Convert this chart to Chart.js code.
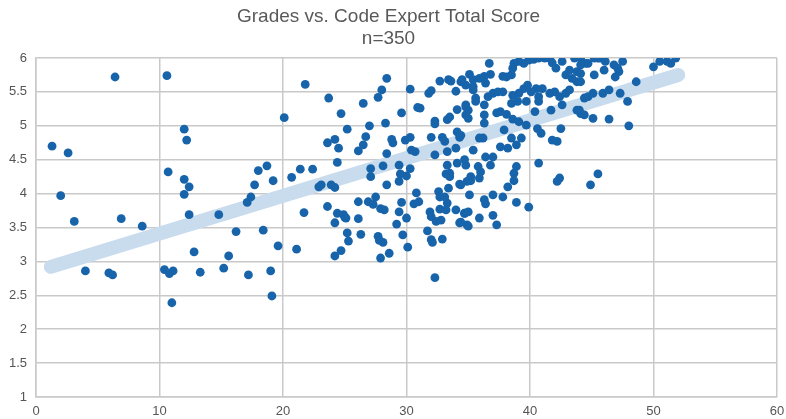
<!DOCTYPE html>
<html lang="en">
<head>
  <meta charset="UTF-8" />
  <title>Grades vs. Code Expert Total Score</title>
  <script src="https://cdn.jsdelivr.net/npm/chart.js"></script>
  <style>
    html, body { margin: 0; padding: 0; background: #fff; }
    #wrap { width: 786px; height: 419px; }
  </style>
</head>
<body>
<div id="wrap"><canvas id="scoreChart" width="786" height="419"></canvas></div>
<script>
  // code expert total score (x) and grade (y)
  const scoreX = [
    1.3, 2.0, 2.6, 3.1, 4.0, 5.9, 6.2, 6.4, 6.9, 8.6, 10.6, 12.0, 12.2, 10.7, 12.0, 12.4, 12.0, 12.4, 10.4, 10.8, 11.1, 11.0, 12.8, 13.3,
    21.8, 23.7, 24.7, 25.2, 20.1, 23.6, 24.2, 24.5, 24.4, 18.0, 18.7, 19.2, 17.7, 17.4, 17.1, 14.8, 20.7, 21.4, 22.4, 22.9, 23.1, 23.9, 24.2, 21.7, 23.6, 24.4, 25.0, 24.2, 16.2, 18.4,
    15.2, 15.6, 17.2, 19.0, 19.1, 19.6, 21.1, 25.2, 25.3, 24.7, 24.2,
    28.4, 28.0, 27.7, 26.5, 30.3, 32.7, 33.4, 33.6, 31.8, 32.0, 34.5, 34.8, 34.0, 29.6, 30.9, 31.1, 27.0, 28.3, 32.3, 32.3, 33.3, 33.5, 34.1, 34.8, 34.8,
    26.7, 26.5, 26.1, 28.8, 28.9, 29.9, 30.3, 32.0, 32.9, 33.1, 34.1, 34.3, 34.0, 33.3, 28.4, 30.4, 30.7, 32.3, 30.3, 29.4, 28.1, 27.1, 33.3, 33.5, 34.1, 34.8, 27.1, 29.5,
    29.4, 30.0, 28.4, 33.2, 33.5, 33.4, 34.3, 34.9, 27.5, 26.1, 26.9, 27.3, 27.9, 28.2, 29.6, 29.4, 30.8, 31.0, 30.6, 32.6, 32.7, 33.1, 33.3, 33.2, 32.7, 31.9, 32.0, 32.4, 32.8, 34.0, 34.7, 34.3, 34.9,
    24.9, 25.1, 26.1, 30.0, 29.2, 26.3, 27.7, 27.8, 28.1, 29.7, 30.1, 28.6, 27.9, 31.7, 32.0, 32.1, 32.9, 32.3,
    36.7, 38.7, 39.1, 39.5, 39.9, 40.3, 40.7, 41.2, 41.6, 41.8, 42.1, 38.6, 38.5, 38.1, 37.8, 36.8, 36.3, 35.9, 36.4, 35.1, 35.4, 34.4, 35.4, 35.4,
    42.6, 43.6, 44.1, 44.5, 43.2, 42.9, 43.8, 43.4, 43.8, 41.0, 40.5, 39.8, 39.5, 40.1, 37.0, 37.4, 37.8, 38.6, 39.1, 36.6, 35.6, 41.6, 42.0, 42.4, 42.9, 43.2,
    40.7, 40.7, 39.7, 39.0, 38.5, 35.6, 34.8, 35.0, 36.3, 42.6, 43.8, 44.1, 44.4, 41.7, 40.4, 37.3, 37.6, 38.1, 36.3, 35.0, 36.3, 38.6, 39.1, 39.7, 42.5, 40.6, 40.9, 37.9,
    36.2, 35.9, 38.5, 39.3, 38.9, 38.2, 37.6, 35.4, 34.4, 41.8, 42.2, 40.7, 37.0, 36.4, 36.8, 38.9, 38.7, 34.7, 35.8, 36.0, 42.4, 35.2,
    35.2, 35.9, 34.4, 38.7, 38.2, 42.2, 44.9, 35.1, 36.3, 36.4, 37.0, 37.8, 38.9, 39.9, 34.7, 35.0, 34.4, 35.0, 35.9, 37.0, 37.3,
    44.7, 45.2, 45.5, 45.7, 46.1, 46.8, 47.5, 44.1, 44.1, 45.2, 46.0, 47.1, 47.2, 46.9, 44.1, 48.6, 50.0, 50.5, 51.1, 51.4, 51.8,
    45.1, 44.7, 44.4, 45.9, 46.4, 47.3, 47.9, 44.0, 45.1, 46.4, 48.0, 45.5
  ];
  const gradeY = [
    4.70, 3.97, 4.60, 3.59, 2.86, 2.83, 2.80, 5.72, 3.63, 3.52, 5.74, 4.95, 4.79, 4.32, 4.21, 4.10, 3.99, 3.69, 2.88, 2.82, 2.86, 2.39, 3.14, 2.84,
    5.61, 5.41, 5.18, 4.95, 5.12, 4.75, 4.80, 4.67, 4.46, 4.34, 4.41, 4.19, 4.13, 3.95, 3.87, 3.69, 4.24, 4.36, 4.36, 4.10, 4.13, 4.13, 4.09, 3.72, 3.81, 3.71, 3.65, 3.57, 3.44, 3.46,
    2.90, 3.08, 2.80, 2.86, 2.49, 3.23, 3.18, 3.42, 3.30, 3.16, 3.08,
    5.70, 5.53, 5.42, 5.33, 5.54, 5.66, 5.68, 5.66, 5.48, 5.52, 5.68, 5.60, 5.51, 5.19, 5.27, 5.26, 5.00, 5.04, 5.07, 5.03, 5.09, 5.13, 5.24, 5.28, 5.16,
    4.84, 4.72, 4.63, 4.80, 4.75, 4.79, 4.83, 4.83, 4.83, 4.77, 4.91, 4.83, 4.67, 4.62, 4.59, 4.64, 4.62, 4.57, 4.37, 4.42, 4.41, 4.37, 4.42, 4.30, 4.45, 4.42, 4.25, 4.29,
    4.18, 4.26, 4.13, 4.29, 4.25, 4.08, 4.14, 4.18, 3.95, 3.88, 3.88, 3.84, 3.78, 3.76, 3.87, 3.73, 4.01, 3.88, 3.85, 4.03, 3.95, 3.95, 3.86, 3.76, 3.77, 3.73, 3.66, 3.59, 3.61, 3.76, 3.71, 3.57, 3.54,
    3.69, 3.64, 3.63, 3.64, 3.55, 3.40, 3.37, 3.31, 3.28, 3.39, 3.21, 3.12, 3.05, 3.45, 3.32, 3.28, 3.33, 2.76,
    5.92, 5.92, 5.95, 5.92, 5.97, 5.98, 6.00, 6.00, 6.00, 5.93, 5.85, 5.85, 5.75, 5.72, 5.73, 5.76, 5.73, 5.70, 5.63, 5.76, 5.68, 5.65, 5.58, 5.53,
    5.95, 6.00, 6.00, 5.92, 5.82, 5.75, 5.80, 5.70, 5.65, 5.55, 5.55, 5.60, 5.55, 5.50, 5.48, 5.50, 5.50, 5.45, 5.48, 5.43, 5.41, 5.48, 5.50, 5.43, 5.48, 5.53,
    5.43, 5.36, 5.36, 5.36, 5.33, 5.36, 5.31, 5.23, 5.31, 5.31, 5.23, 5.18, 5.16, 5.23, 5.21, 5.19, 5.21, 5.17, 5.16, 5.11, 5.04, 5.10, 5.06, 5.01, 4.96, 4.96, 4.89, 4.94,
    4.82, 4.82, 4.82, 4.82, 4.72, 4.67, 4.69, 4.64, 4.86, 4.79, 4.77, 4.45, 4.54, 4.54, 4.42, 4.40, 4.30, 4.50, 4.40, 4.32, 4.23, 4.25,
    4.19, 4.23, 4.13, 4.19, 4.10, 4.18, 4.13, 3.98, 3.91, 3.85, 3.98, 3.95, 3.87, 3.80, 3.71, 3.73, 3.58, 3.52, 3.64, 3.68, 3.54,
    5.92, 6.00, 6.00, 6.00, 5.95, 5.90, 5.95, 5.90, 5.77, 5.75, 5.82, 5.85, 5.80, 5.72, 5.65, 5.65, 5.87, 5.95, 5.95, 5.92, 6.00,
    5.48, 5.43, 5.41, 5.48, 5.53, 5.48, 5.36, 5.23, 5.11, 5.10, 5.00, 4.29
  ];

  // fitted regression line end points
  const fitX = [1.2, 52.0];
  const fitY = [2.92, 5.75];

  const titleLines = ['Grades vs. Code Expert Total Score', 'n=350'];

  const points = scoreX.map((x, i) => ({ x: x, y: gradeY[i] }));
  const fitLine = fitX.map((x, i) => ({ x: x, y: fitY[i] }));

  const gridColor = '#c9c9c9';
  const tickFont = { family: "'Liberation Sans', Arial, sans-serif", size: 13 };

  const ctx = document.getElementById('scoreChart').getContext('2d');
  new Chart(ctx, {
    type: 'scatter',
    data: {
      datasets: [
        {
          label: 'students',
          data: points,
          backgroundColor: '#1764ab',
          borderWidth: 0,
          pointRadius: 4.4,
          pointHoverRadius: 4.4
        },
        {
          type: 'line',
          label: 'fit',
          data: fitLine,
          borderColor: '#c8dcee',
          borderWidth: 14,
          borderCapStyle: 'round',
          pointRadius: 0,
          fill: false
        }
      ]
    },
    options: {
      responsive: false,
      animation: false,
      layout: { padding: { left: 0, right: 9, top: 0, bottom: 0 } },
      plugins: {
        legend: { display: false },
        tooltip: { enabled: false },
        title: {
          display: true,
          text: titleLines,
          color: '#595959',
          font: { family: "'Liberation Sans', Arial, sans-serif", size: 19, weight: 'normal', lineHeight: 1.14 },
          padding: { top: 6, bottom: 8.7 }
        }
      },
      scales: {
        x: {
          type: 'linear',
          min: 0,
          max: 60,
          ticks: { stepSize: 10, color: '#555', padding: 7, font: tickFont },
          grid: { color: gridColor, lineWidth: 1.5, drawTicks: false },
          border: { color: gridColor, width: 1.5 },
          afterFit: (scale) => {
            scale.height = 22;
            scale.paddingLeft = 0;
            scale.paddingRight = 0;
          }
        },
        y: {
          min: 1,
          max: 6,
          ticks: {
            stepSize: 0.5,
            color: '#555',
            padding: 9,
            font: tickFont,
            callback: (v) => String(Math.round(v * 10) / 10)
          },
          grid: { color: gridColor, lineWidth: 1.5, drawTicks: false },
          border: { color: gridColor, width: 1.5 },
          afterFit: (scale) => { scale.width = 36; }
        }
      }
    }
  });
</script>
</body>
</html>
